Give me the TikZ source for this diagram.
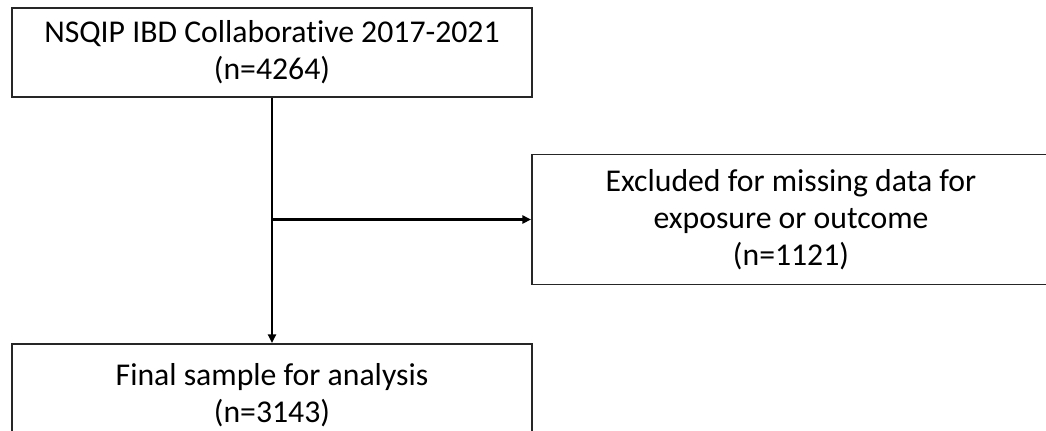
\documentclass[tikz,border=0pt]{standalone}
\usepackage{fontspec}
\setmainfont{Carlito}[Ligatures={NoCommon}]
\usetikzlibrary{arrows.meta}
\begin{document}
\begin{tikzpicture}[x=0.75pt,y=-0.75pt,
  box/.style={draw=black!85,line width=1.4pt,align=center,inner sep=0pt,
    font=\fontsize{23.8}{27.8}\selectfont},
  conn/.style={line width=2.2pt,-{Triangle[length=6.5pt,width=6pt]}}]
\useasboundingbox (0,0) rectangle (1046,430);
\begin{scope}
\clip (0,0) rectangle (1046,430);
\node[box,minimum width=390pt,minimum height=66.75pt] (top) at (272,52.5)
  {NSQIP IBD Collaborative 2017-2021\\(n=4264)};
\node[box,minimum width=388.5pt,minimum height=97.5pt] (excl) at (791,219.5)
  {Excluded for missing data for\\exposure or outcome\\(n=1121)};
\node[box,anchor=north,minimum width=390pt,inner ysep=0pt,text depth=60pt] (final) at (272,343)
  {\rule{0pt}{31pt}Final sample for analysis\\(n=3143)};
\coordinate (branch) at (top.south |- excl.west);
\draw[conn] (top.south) -- (final.north);
\draw[conn] (branch) -- (excl.west);
\end{scope}
\end{tikzpicture}
\end{document}
